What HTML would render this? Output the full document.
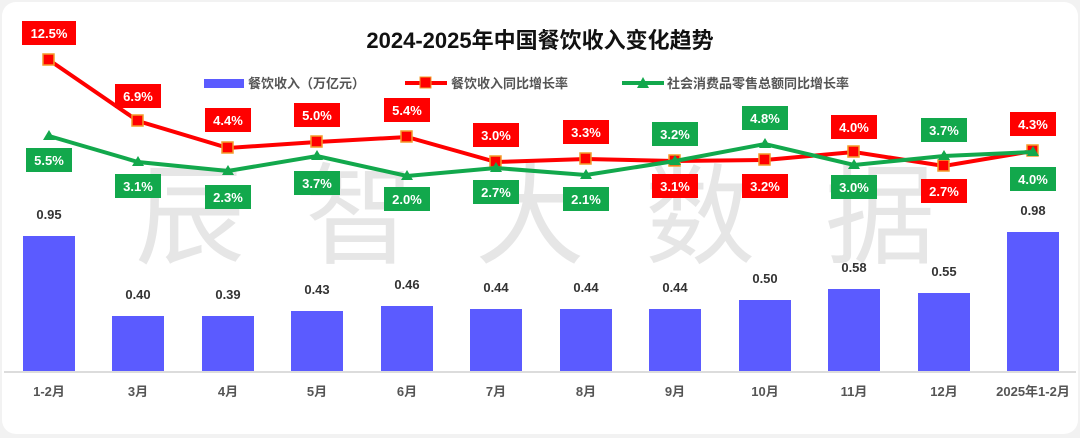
<!DOCTYPE html>
<html><head><meta charset="utf-8"><style>
body{margin:0;background:#f2f2f2;}
svg{display:block;font-family:"Liberation Sans","Noto Sans CJK SC",sans-serif;}
</style></head><body>
<svg width="1080" height="438" viewBox="0 0 1080 438">
<rect x="0" y="0" width="1080" height="438" fill="#f2f2f2"/>
<rect x="2" y="2" width="1076" height="432" rx="14" fill="#fff"/>
<g fill="#e6e6e6" font-size="110" text-anchor="middle" font-family="'Noto Sans CJK SC',sans-serif">
<text x="190" y="255">辰</text><text x="360" y="255">智</text><text x="530" y="255">大</text><text x="700" y="255">数</text><text x="880" y="255">据</text>
</g>
<text x="540" y="48" font-size="22" font-weight="bold" text-anchor="middle" fill="#111">2024-2025年中国餐饮收入变化趋势</text>
<g font-size="13" fill="#555" font-weight="bold">
<rect x="204" y="79" width="40" height="9" fill="#5b5bff"/><text x="248" y="88">餐饮收入（万亿元）</text>
<line x1="405" y1="83" x2="447" y2="83" stroke="#f00" stroke-width="4"/><rect x="420" y="77" width="11" height="11" fill="#f00" stroke="#f39c2a"/><text x="451" y="88">餐饮收入同比增长率</text>
<line x1="622" y1="83" x2="664" y2="83" stroke="#12a84c" stroke-width="4"/><polygon points="643,77 637,88 649,88" fill="#12a84c"/><text x="667" y="88">社会消费品零售总额同比增长率</text>
</g>
<line x1="4" y1="372" x2="1076" y2="372" stroke="#d0d0d0" stroke-width="1.5"/>
<g fill="#5b5bff">
<rect x="23" y="236" width="52" height="135"/><rect x="112" y="316" width="52" height="55"/><rect x="202" y="316" width="52" height="55"/><rect x="291" y="311" width="52" height="60"/><rect x="381" y="306" width="52" height="65"/><rect x="470" y="309" width="52" height="62"/><rect x="560" y="309" width="52" height="62"/><rect x="649" y="309" width="52" height="62"/><rect x="739" y="300" width="52" height="71"/><rect x="828" y="289" width="52" height="82"/><rect x="918" y="293" width="52" height="78"/><rect x="1007" y="232" width="52" height="139"/>
</g>
<g font-size="13" font-weight="bold" fill="#333" text-anchor="middle">
<text x="49" y="219">0.95</text><text x="138" y="299">0.40</text><text x="228" y="299">0.39</text><text x="317" y="294">0.43</text><text x="407" y="289">0.46</text><text x="496" y="292">0.44</text><text x="586" y="292">0.44</text><text x="675" y="292">0.44</text><text x="765" y="283">0.50</text><text x="854" y="272">0.58</text><text x="944" y="276">0.55</text><text x="1033" y="215">0.98</text>
</g>
<g font-size="13" font-weight="bold" fill="#555" text-anchor="middle">
<text x="49" y="396">1-2月</text><text x="138" y="396">3月</text><text x="228" y="396">4月</text><text x="317" y="396">5月</text><text x="407" y="396">6月</text><text x="496" y="396">7月</text><text x="586" y="396">8月</text><text x="675" y="396">9月</text><text x="765" y="396">10月</text><text x="854" y="396">11月</text><text x="944" y="396">12月</text><text x="1033" y="396">2025年1-2月</text>
</g>
<polyline fill="none" stroke="#f00" stroke-width="4" points="49,60 138,121 228,148 317,142 407,137 496,162 586,159 675,161 765,160 854,152 944,166 1033,151"/>
<g fill="#f00" stroke="#f39c2a" stroke-width="1.5">
<rect x="43" y="54" width="11" height="11"/><rect x="132" y="115" width="11" height="11"/><rect x="222" y="142" width="11" height="11"/><rect x="311" y="136" width="11" height="11"/><rect x="401" y="131" width="11" height="11"/><rect x="490" y="156" width="11" height="11"/><rect x="580" y="153" width="11" height="11"/><rect x="669" y="155" width="11" height="11"/><rect x="759" y="154" width="11" height="11"/><rect x="848" y="146" width="11" height="11"/><rect x="938" y="160" width="11" height="11"/><rect x="1027" y="145" width="11" height="11"/>
</g>
<polyline fill="none" stroke="#12a84c" stroke-width="4" points="49,136 138,162 228,171 317,156 407,176 496,168 586,175 675,161 765,144 854,165 944,156 1033,152"/>
<g fill="#12a84c">
<polygon points="49,130 43,140 55,140"/><polygon points="138,156 132,166 144,166"/><polygon points="228,165 222,175 234,175"/><polygon points="317,150 311,160 323,160"/><polygon points="407,170 401,180 413,180"/><polygon points="496,162 490,172 502,172"/><polygon points="586,169 580,179 592,179"/><polygon points="675,155 669,165 681,165"/><polygon points="765,138 759,148 771,148"/><polygon points="854,159 848,169 860,169"/><polygon points="944,150 938,160 950,160"/><polygon points="1033,146 1027,156 1039,156"/>
</g>
<g font-size="13" font-weight="bold" fill="#fff" text-anchor="middle">
<rect x="22" y="21" width="54" height="24" fill="#f00"/><text x="49" y="38">12.5%</text>
<rect x="115" y="84" width="46" height="24" fill="#f00"/><text x="138" y="101">6.9%</text>
<rect x="205" y="108" width="46" height="24" fill="#f00"/><text x="228" y="125">4.4%</text>
<rect x="294" y="103" width="46" height="24" fill="#f00"/><text x="317" y="120">5.0%</text>
<rect x="384" y="98" width="46" height="24" fill="#f00"/><text x="407" y="115">5.4%</text>
<rect x="473" y="123" width="46" height="24" fill="#f00"/><text x="496" y="140">3.0%</text>
<rect x="563" y="120" width="46" height="24" fill="#f00"/><text x="586" y="137">3.3%</text>
<rect x="652" y="174" width="46" height="24" fill="#f00"/><text x="675" y="191">3.1%</text>
<rect x="742" y="174" width="46" height="24" fill="#f00"/><text x="765" y="191">3.2%</text>
<rect x="831" y="115" width="46" height="24" fill="#f00"/><text x="854" y="132">4.0%</text>
<rect x="921" y="179" width="46" height="24" fill="#f00"/><text x="944" y="196">2.7%</text>
<rect x="1010" y="112" width="46" height="24" fill="#f00"/><text x="1033" y="129">4.3%</text>
<rect x="26" y="148" width="46" height="24" fill="#12a84c"/><text x="49" y="165">5.5%</text>
<rect x="115" y="174" width="46" height="24" fill="#12a84c"/><text x="138" y="191">3.1%</text>
<rect x="205" y="185" width="46" height="24" fill="#12a84c"/><text x="228" y="202">2.3%</text>
<rect x="294" y="171" width="46" height="24" fill="#12a84c"/><text x="317" y="188">3.7%</text>
<rect x="384" y="187" width="46" height="24" fill="#12a84c"/><text x="407" y="204">2.0%</text>
<rect x="473" y="180" width="46" height="24" fill="#12a84c"/><text x="496" y="197">2.7%</text>
<rect x="563" y="187" width="46" height="24" fill="#12a84c"/><text x="586" y="204">2.1%</text>
<rect x="652" y="122" width="46" height="24" fill="#12a84c"/><text x="675" y="139">3.2%</text>
<rect x="742" y="106" width="46" height="24" fill="#12a84c"/><text x="765" y="123">4.8%</text>
<rect x="831" y="175" width="46" height="24" fill="#12a84c"/><text x="854" y="192">3.0%</text>
<rect x="921" y="118" width="46" height="24" fill="#12a84c"/><text x="944" y="135">3.7%</text>
<rect x="1010" y="167" width="46" height="24" fill="#12a84c"/><text x="1033" y="184">4.0%</text>
</g>
</svg>
</body></html>
